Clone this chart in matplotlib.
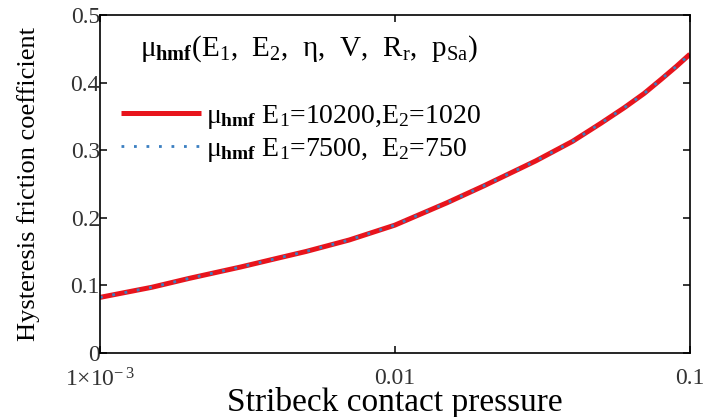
import numpy as np
import matplotlib
matplotlib.use('Agg')
import matplotlib.pyplot as plt

# data (log x)
pressure = [0.001, 0.0015, 0.002, 0.003, 0.004, 0.005, 0.007, 0.01,
            0.015, 0.02, 0.03, 0.04, 0.05, 0.06, 0.07, 0.08, 0.09, 0.1]
mu_e10200 = [0.082, 0.097, 0.110, 0.127, 0.140, 0.150, 0.167, 0.189,
             0.222, 0.247, 0.284, 0.313, 0.340, 0.363, 0.384, 0.405, 0.424, 0.442]
mu_e7500 = [0.082, 0.097, 0.110, 0.127, 0.140, 0.150, 0.167, 0.189,
            0.222, 0.247, 0.284, 0.313, 0.340, 0.363, 0.384, 0.405, 0.424, 0.442]
xticks = [0.001, 0.01, 0.1]
xticklabels = [r'1×10$^{-\,3}$', '0.01', '0.1']
yticks = [0, 0.1, 0.2, 0.3, 0.4, 0.5]
yticklabels = ['0', '0.1', '0.2', '0.3', '0.4', '0.5']

plt.rcParams['font.family'] = ['Liberation Serif', 'DejaVu Serif']
plt.rcParams['mathtext.fontset'] = 'custom'
plt.rcParams['mathtext.rm'] = 'Liberation Serif'
plt.rcParams['mathtext.it'] = 'Liberation Serif'
plt.rcParams['mathtext.bf'] = 'Liberation Serif:bold'

fig = plt.figure(figsize=(7.12, 4.17), dpi=100)
ax = fig.add_axes([0.1404, 0.154, 0.8286, 0.81])

ax.plot(pressure, mu_e10200, color='#e8141c', lw=3.6, solid_capstyle='butt',
        label=r'$\mu_{\mathbf{hmf}}$ E$_1$=10200,E$_2$=1020')
ax.plot(pressure, mu_e7500, color='#3a7fc1', lw=2.0, ls=(0, (1, 3.5)),
        label=r'$\mu_{\mathbf{hmf}}$ E$_1$=7500,  E$_2$=750')

ax.set_xscale('log')
ax.set_xlim(0.001, 0.1)
ax.set_ylim(0, 0.5)
ax.set_xticks(xticks)
ax.set_xticklabels(xticklabels)
ax.minorticks_off()
ax.set_yticks(yticks)
ax.set_yticklabels(yticklabels)
ax.tick_params(direction='in', length=5, width=1.1, top=True, right=True,
               labelsize=17, labelcolor='#333333')
ax.tick_params(axis='x', pad=11)
ax.tick_params(axis='y', pad=0)
for s in ax.spines.values():
    s.set_linewidth(1.2)

ax.set_xlabel('Stribeck contact pressure', fontsize=24, labelpad=-3)
ax.set_ylabel('Hysteresis friction coefficient', fontsize=19, labelpad=22)

ax.text(0.068, 0.9, r'$\mu_{\mathbf{hmf}}$(E$_1$,  E$_2$,  η,  V,  R$_r$,  p$_{Sa}$)',
        transform=ax.transAxes, fontsize=21, va='center', ha='left')
ax.legend(loc='upper left', bbox_to_anchor=(0.008, 0.79), frameon=False,
          fontsize=20, handlelength=2.85, handletextpad=0.2, labelspacing=0.18,
          borderaxespad=0.2)

fig.savefig('out.png', dpi=100)
